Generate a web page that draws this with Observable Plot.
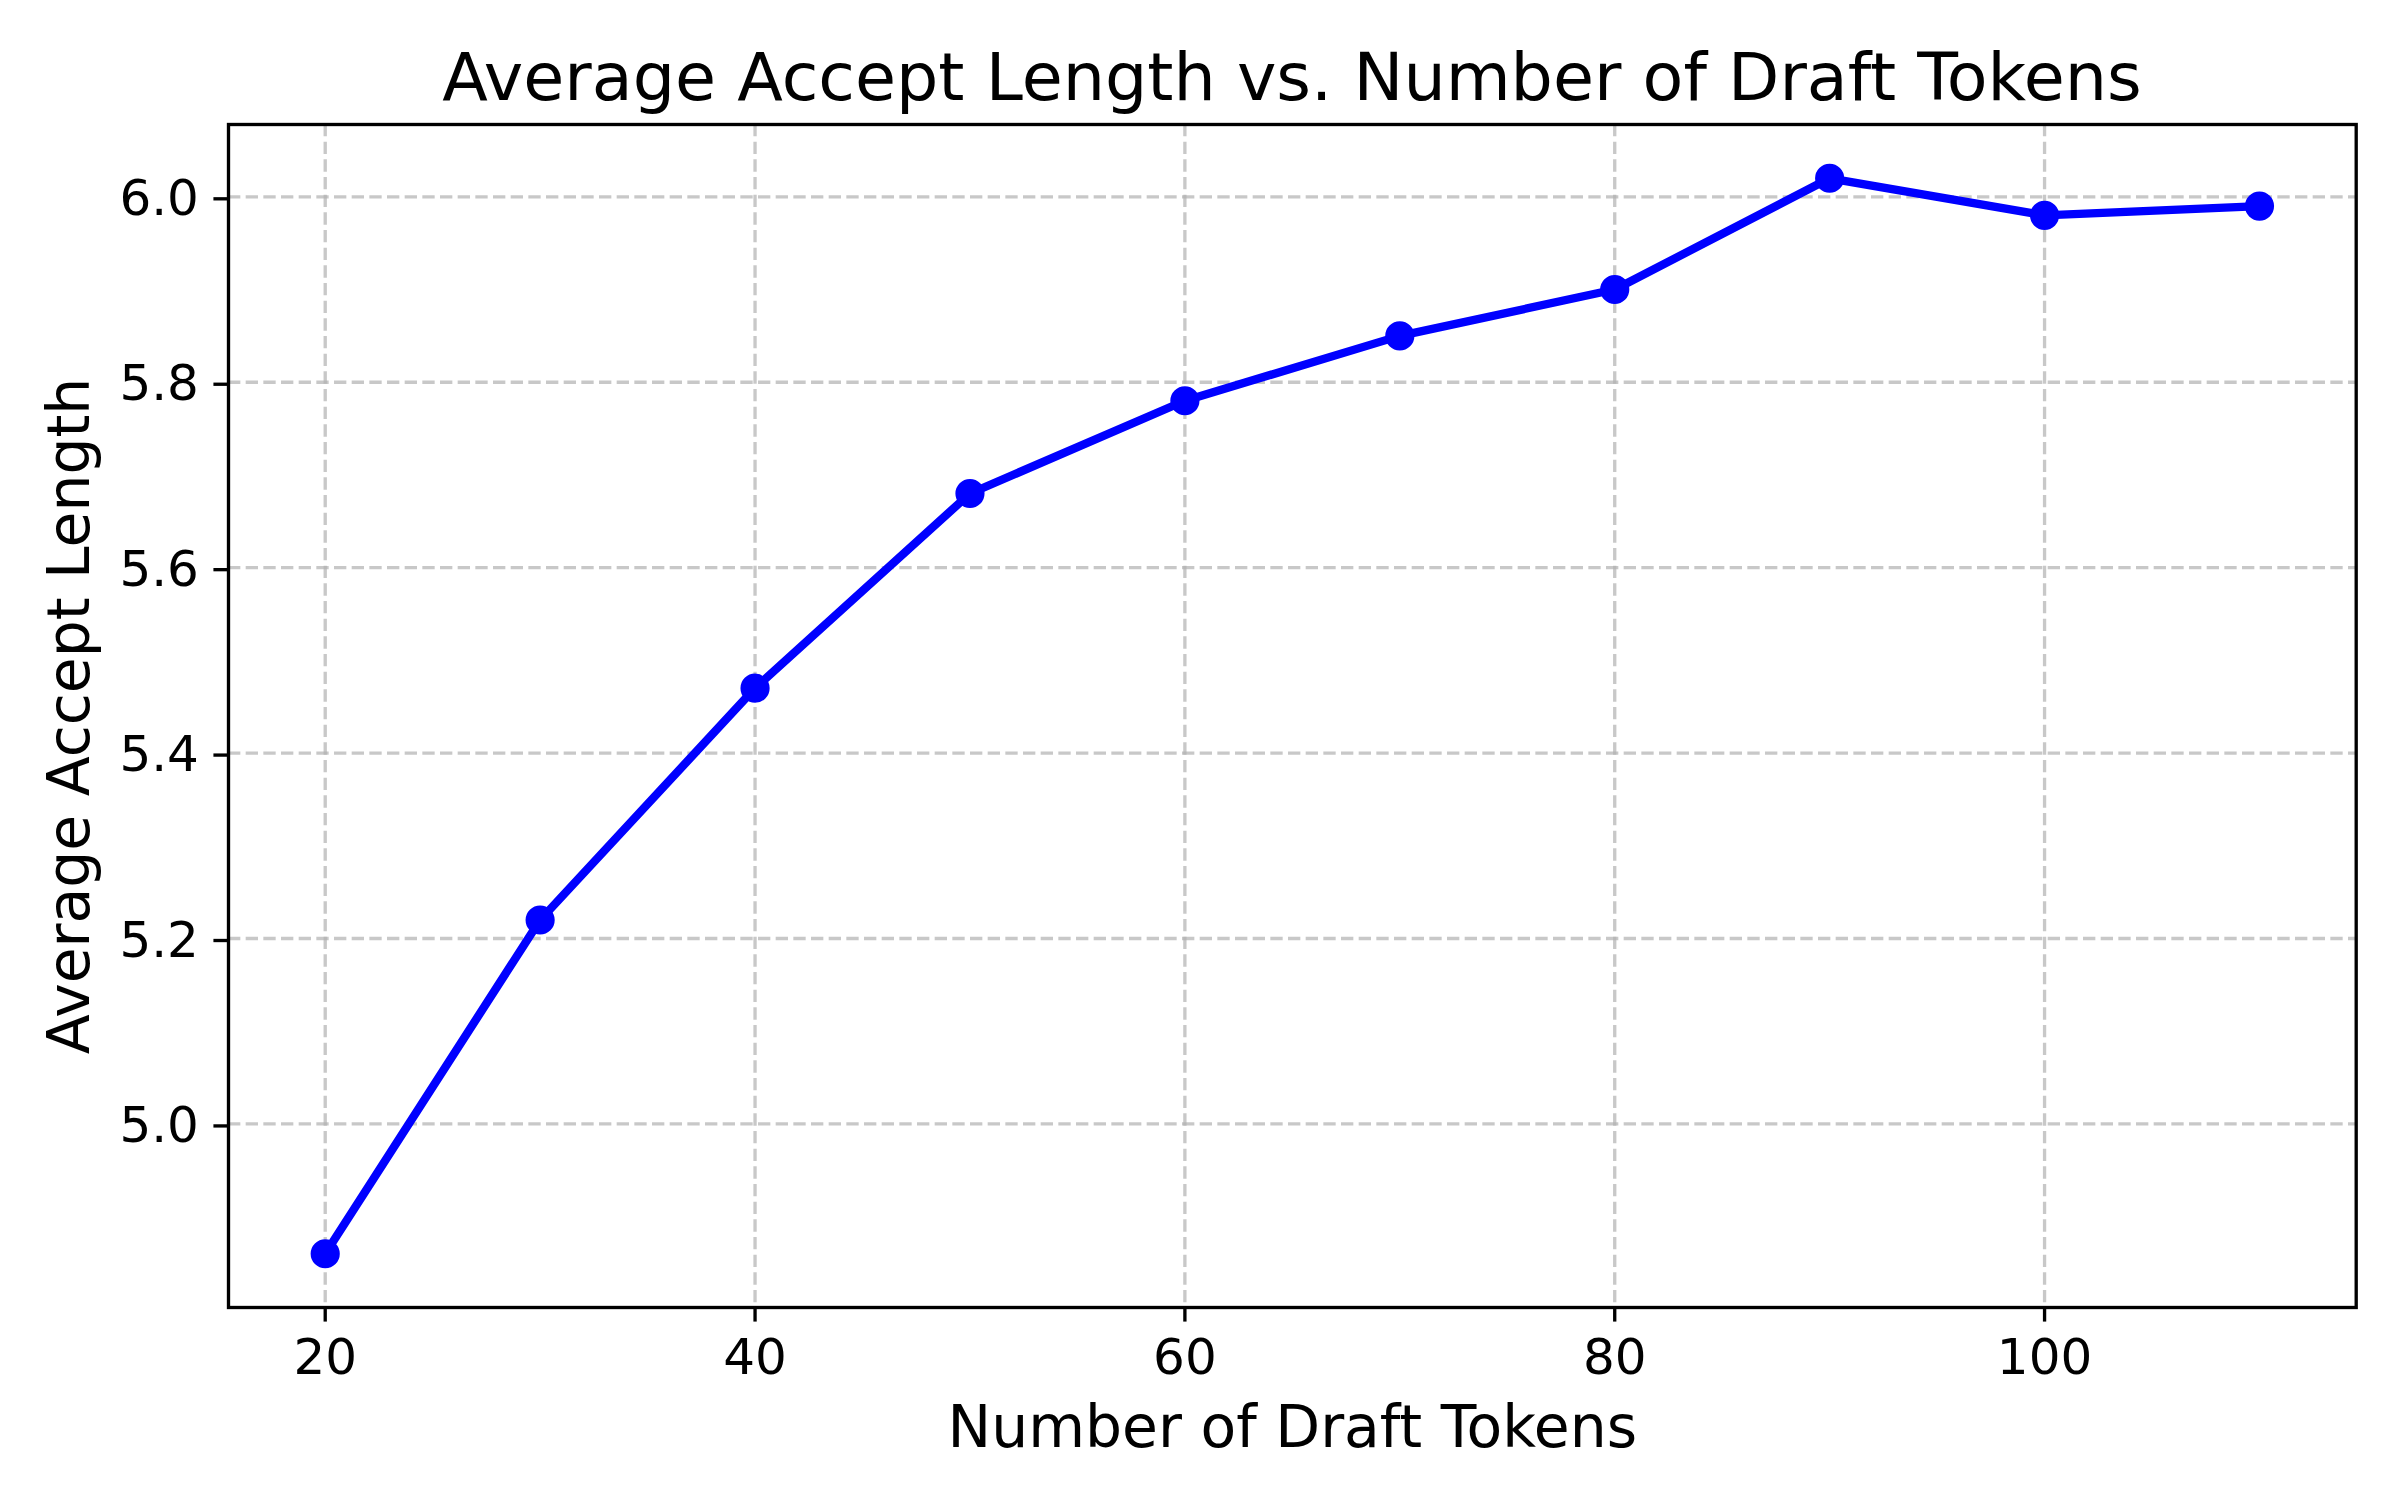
<!DOCTYPE html>
<html>
<head>
<meta charset="utf-8">
<script src="https://cdn.jsdelivr.net/npm/d3@7"></script>
<script src="https://cdn.jsdelivr.net/npm/@observablehq/plot@0.6"></script>
<style>
  html, body { margin: 0; padding: 0; background: white; }
  #title {
    box-sizing: border-box;
    width: 2400px; height: 110px;
    padding: 43.6px 44px 0 228px;
    font-family: "DejaVu Sans", sans-serif;
    font-size: 66.7px; line-height: 66.7px;
    text-align: center; color: black;
    white-space: nowrap;
  }
</style>
</head>
<body>
<div id="title">Average Accept Length vs. Number of Draft Tokens</div>
<div id="chart"></div>
<script>
const draftTokens = [20, 30, 40, 50, 60, 70, 80, 90, 100, 110];
const acceptLength = [4.86, 5.22, 5.47, 5.68, 5.78, 5.85, 5.90, 6.02, 5.98, 5.99];
const xTicks = [20, 40, 60, 80, 100];
const yTicks = [5.0, 5.2, 5.4, 5.6, 5.8, 6.0];
const xLabel = "Number of Draft Tokens";
const yLabel = "Average Accept Length";

const data = draftTokens.map((x, i) => ({x, y: acceptLength[i]}));

const pt = 300 / 72;
const font = "'DejaVu Sans', sans-serif";

const chart = Plot.plot({
  width: 2400,
  height: 1390,
  marginTop: 14,
  marginBottom: 193,
  marginLeft: 228,
  marginRight: 44.3,
  style: {fontFamily: font, background: "white", color: "black"},
  x: {domain: [15.5, 114.5]},
  y: {domain: [4.802, 6.078]},
  marks: [
    Plot.gridX(xTicks, {stroke: "#b0b0b0", strokeOpacity: 0.7, strokeWidth: 0.8 * pt, strokeDasharray: `${2.96 * pt},${1.28 * pt}`}),
    Plot.gridY(yTicks, {stroke: "#b0b0b0", strokeOpacity: 0.7, strokeWidth: 0.8 * pt, strokeDasharray: `${2.96 * pt},${1.28 * pt}`}),
    Plot.line(data, {x: "x", y: "y", stroke: "blue", strokeWidth: 2 * pt}),
    Plot.dot(data, {x: "x", y: "y", fill: "blue", stroke: "blue", r: 3 * pt, strokeWidth: 1 * pt}),
    Plot.frame({stroke: "black", strokeWidth: 0.8 * pt}),
    Plot.axisX(xTicks, {tickSize: 3.5 * pt, tickPadding: 16, strokeWidth: 0.8 * pt, fontSize: 50, label: null, fill: "black", stroke: "black"}),
    Plot.axisY(yTicks, {tickSize: 3.5 * pt, tickPadding: 15, strokeWidth: 0.8 * pt, fontSize: 50, label: null, tickFormat: d3.format(".1f"), fill: "black", stroke: "black", dy: 2}),
    Plot.text([xLabel], {text: d => d, frameAnchor: "bottom", lineAnchor: "bottom", textAnchor: "middle", dy: 139.7, fontSize: 14 * pt, fill: "black"}),
    Plot.text([yLabel], {text: d => d, frameAnchor: "left", lineAnchor: "bottom", textAnchor: "middle", rotate: -90, dx: -140, fontSize: 14 * pt, fill: "black"})
  ]
});
document.getElementById("chart").appendChild(chart);
</script>
</body>
</html>
